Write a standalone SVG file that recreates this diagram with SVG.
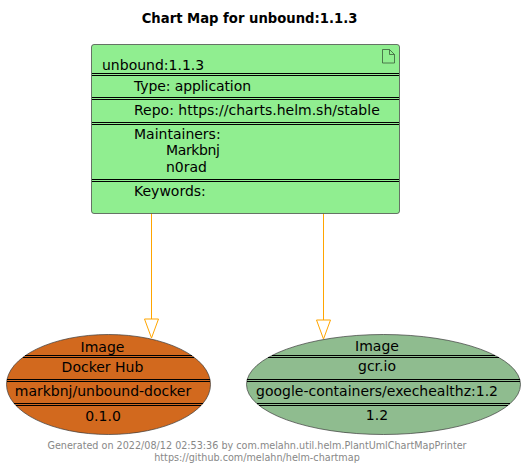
<svg xmlns="http://www.w3.org/2000/svg" width="525" height="469" viewBox="0 0 525 469">
<style>
text{font-family:"DejaVu Sans",sans-serif;font-size:14px;fill:#000}
.m{text-anchor:middle}
.t{font-weight:bold;font-size:13.200px}
.f{font-size:9.630px;fill:#888;text-anchor:middle}
.d{stroke:#000;stroke-width:1;fill:none}
.c{stroke:#FFA500;stroke-width:1;fill:none}
.o{stroke:#3b3b3b;stroke-width:.7}
</style>
<rect width="525" height="469" fill="#fff"/>
<text id="title" class="t m" x="249.500" y="23">Chart Map for unbound:1.1.3</text>
<g id="connectors">
<path class="c" d="M151.500 213.500V319"/>
<polygon class="c" points="144.500,319 158.500,319 151.500,338"/>
<path class="c" d="M323.500 213.500V320"/>
<polygon class="c" points="316.500,320 330.500,320 323.500,339"/>
</g>
<g id="chart">
<rect class="o" x="91.500" y="44.500" width="308" height="169" rx="2.500" fill="#90EE90"/>
<path d="M382.500 49.500h7l5 5v8.500h-12zM389.500 49.500v5h5" fill="none" stroke="#3b5b3b" stroke-width=".8"/>
<text x="102" y="70">unbound:1.1.3</text>
<path class="d" d="M92 73.500H399M92 75.500H399M92 97.500H399M92 99.500H399M92 122.500H399M92 124.500H399M92 179.500H399M92 181.500H399"/>
<text x="134" y="91" textLength="117">Type: application</text>
<text x="134" y="115">Repo: https://charts.helm.sh/stable</text>
<text x="134" y="139">Maintainers:</text>
<text x="166" y="155" textLength="54">Markbnj</text>
<text x="166" y="172">n0rad</text>
<text x="134" y="196">Keywords:</text>
</g>
<g id="image1">
<ellipse class="o" cx="108.500" cy="384.500" rx="102" ry="50" fill="#D2691E"/>
<path class="d" d="M25 355.500H192M23 357.500H194M7 379.500H210M7 381.500H210M14 403.500H203M16 405.500H201"/>
<text class="m" x="102.500" y="352">Image</text>
<text class="m" x="102.500" y="372">Docker Hub</text>
<text class="m" x="103" y="396">markbnj/unbound-docker</text>
<text class="m" x="103" y="421">0.1.0</text>
</g>
<g id="image2">
<ellipse class="o" cx="383.500" cy="384.500" rx="137" ry="50" fill="#8FBC8F"/>
<path class="d" d="M272 355.500H495M268 357.500H499M247 379.500H520M247 381.500H520M257 403.500H510M259 405.500H508"/>
<text class="m" x="377" y="351">Image</text>
<text class="m" x="377" y="371">gcr.io</text>
<text class="m" x="377" y="396">google-containers/exechealthz:1.2</text>
<text class="m" x="377" y="420">1.2</text>
</g>
<g id="footer">
<text class="f" x="257" y="449">Generated on 2022/08/12 02:53:36 by com.melahn.util.helm.PlantUmlChartMapPrinter</text>
<text class="f" x="257" y="461">https://github.com/melahn/helm-chartmap</text>
</g>
</svg>
